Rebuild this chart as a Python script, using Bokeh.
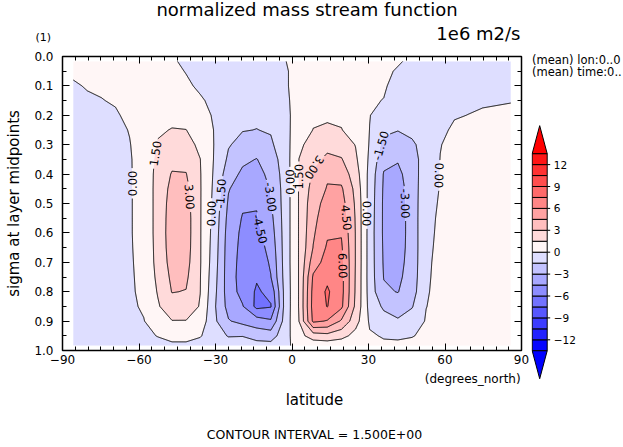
import math
import numpy as np
import contourpy
from bokeh.plotting import figure
from bokeh.layouts import column, row
from bokeh.models import (Range1d, FixedTicker, Label, NumeralTickFormatter, LinearAxis)
from bokeh.core.properties import value
from bokeh.embed import file_html
from bokeh.resources import INLINE

# ---------------- data ----------------
lat = [-85.76, -80.27, -74.75, -69.21, -63.68, -58.14, -52.61, -47.07, -41.53, -36.00,
       -30.46, -24.92, -19.38, -13.84, -8.31, -2.77, 2.77, 8.31, 13.84, 19.38,
       24.92, 30.46, 36.00, 41.53, 47.07, 52.61, 58.14, 63.68, 69.21, 74.75, 80.27, 85.76]
sigma = [0.017, 0.05, 0.10, 0.15, 0.20, 0.25, 0.30, 0.35, 0.40, 0.45, 0.50,
         0.55, 0.60, 0.65, 0.70, 0.75, 0.80, 0.85, 0.90, 0.95, 0.983]

# stream function (1e6 m2/s): one list per latitude, values from top (sigma 0.017) to bottom
psi_by_lat = [
    [0.25, 0.12, -0.08, -0.2, -0.3, -0.35, -0.4, -0.4, -0.45, -0.45, -0.45, -0.45, -0.45, -0.45, -0.4, -0.4, -0.35, -0.3, -0.25, -0.2, -0.1],
    [0.35, 0.25, 0.05, -0.1, -0.25, -0.35, -0.4, -0.45, -0.5, -0.5, -0.5, -0.5, -0.5, -0.5, -0.45, -0.45, -0.4, -0.35, -0.3, -0.25, -0.15],
    [0.45, 0.35, 0.12, -0.03, -0.2, -0.35, -0.45, -0.5, -0.55, -0.55, -0.55, -0.55, -0.55, -0.55, -0.5, -0.5, -0.45, -0.4, -0.35, -0.3, -0.2],
    [0.5, 0.45, 0.3, 0.08, -0.1, -0.3, -0.4, -0.5, -0.5, -0.5, -0.5, -0.5, -0.5, -0.5, -0.5, -0.5, -0.5, -0.45, -0.4, -0.3, -0.2],
    [0.6, 0.6, 0.5, 0.35, 0.2, 0.05, -0.05, -0.1, -0.1, -0.1, -0.1, -0.1, -0.1, -0.12, -0.15, -0.18, -0.2, -0.22, -0.3, -0.3, -0.2],
    [0.5, 0.6, 0.7, 0.75, 0.75, 0.7, 0.6, 0.5, 0.45, 0.43, 0.43, 0.43, 0.43, 0.42, 0.4, 0.36, 0.3, 0.15, -0.05, -0.3, -0.4],
    [0.3, 0.5, 0.8, 1.0, 1.2, 1.35, 1.6, 1.85, 2.0, 2.05, 2.05, 2.05, 2.05, 2.0, 1.95, 1.8, 1.6, 1.35, 0.8, 0.05, -0.4],
    [0.1, 0.3, 0.6, 0.9, 1.2, 1.55, 2.0, 2.6, 3.1, 3.4, 3.6, 3.7, 3.75, 3.7, 3.55, 3.3, 3.05, 2.4, 1.45, 0.5, -0.3],
    [-0.15, -0.05, 0.2, 0.6, 1.0, 1.52, 2.0, 2.6, 3.05, 3.4, 3.6, 3.7, 3.7, 3.65, 3.5, 3.25, 2.95, 2.3, 1.45, 0.5, -0.3],
    [-0.4, -0.3, -0.2, 0.15, 0.5, 0.85, 1.2, 1.52, 1.58, 1.6, 1.6, 1.6, 1.6, 1.6, 1.6, 1.55, 1.52, 1.4, 0.9, 0.1, -0.5],
    [-0.3, -0.4, -0.4, -0.3, -0.15, -0.05, -0.05, -0.1, -0.2, -0.3, -0.4, -0.5, -0.6, -0.7, -0.8, -0.95, -1.1, -1.3, -1.2, -0.8, -0.5],
    [-0.3, -0.4, -0.55, -0.75, -0.95, -1.15, -1.4, -1.75, -2.3, -2.9, -3.2, -3.45, -3.65, -3.75, -3.8, -3.8, -3.75, -3.5, -2.9, -1.6, -0.7],
    [-0.3, -0.45, -0.7, -0.95, -1.2, -1.45, -1.9, -2.7, -3.3, -3.8, -4.3, -4.6, -4.8, -4.9, -5.0, -5.1, -5.0, -4.4, -3.4, -1.55, -0.8],
    [-0.3, -0.45, -0.7, -1.0, -1.3, -1.52, -2.2, -3.05, -3.5, -3.9, -4.4, -4.6, -4.9, -5.2, -5.5, -5.85, -6.2, -6.4, -3.8, -2.1, -0.9],
    [-0.2, -0.3, -0.5, -0.8, -1.1, -1.4, -1.7, -2.2, -2.6, -2.9, -3.1, -3.4, -3.7, -4.0, -4.3, -4.55, -5.6, -6.1, -4.3, -2.2, -1.0],
    [-0.02, -0.1, -0.15, -0.3, -0.5, -0.6, -0.7, -0.8, -0.85, -0.9, -0.9, -0.9, -0.9, -0.9, -0.9, -0.95, -1.0, -1.0, -0.9, -0.6, -0.2],
    [0.2, 0.3, 0.45, 0.6, 0.8, 1.0, 1.25, 1.52, 1.6, 1.6, 1.6, 1.6, 1.6, 1.6, 1.6, 1.6, 1.6, 1.6, 1.52, 1.0, 0.3],
    [0.25, 0.45, 0.8, 1.1, 1.35, 1.52, 2.0, 2.6, 3.2, 3.6, 3.95, 4.1, 4.3, 4.55, 5.3, 6.2, 6.5, 6.6, 6.3, 2.2, 0.6],
    [0.3, 0.55, 0.9, 1.2, 1.3, 1.7, 2.6, 3.3, 4.3, 4.6, 5.0, 5.4, 5.8, 6.2, 6.6, 7.2, 7.7, 7.55, 5.9, 2.5, 0.6],
    [0.35, 0.6, 0.95, 1.2, 1.4, 1.52, 2.3, 3.1, 3.9, 4.7, 5.1, 5.5, 5.9, 6.2, 6.4, 6.5, 6.5, 6.3, 4.3, 2.0, 0.5],
    [0.3, 0.5, 0.75, 0.95, 1.1, 1.25, 1.45, 1.75, 2.2, 2.6, 2.8, 2.9, 2.95, 2.95, 2.95, 2.9, 2.85, 2.7, 2.1, 1.0, 0.3],
    [0.3, 0.25, 0.15, 0.08, 0.03, -0.02, -0.1, -0.25, -0.45, -0.55, -0.6, -0.65, -0.7, -0.7, -0.7, -0.7, -0.65, -0.5, -0.2, 0.15, 0.25],
    [0.3, 0.2, 0.08, -0.02, -0.5, -1.2, -1.9, -2.6, -3.1, -3.2, -3.25, -3.25, -3.25, -3.2, -3.15, -3.05, -2.8, -1.75, -0.9, -0.1, 0.2],
    [0.1, -0.1, -0.25, -0.5, -0.9, -1.45, -2.2, -2.9, -3.3, -3.5, -3.6, -3.6, -3.6, -3.55, -3.45, -3.3, -3.05, -2.3, -1.3, -0.15, 0.2],
    [-0.2, -0.3, -0.45, -0.6, -0.85, -1.2, -1.7, -2.1, -2.35, -2.45, -2.5, -2.5, -2.5, -2.5, -2.45, -2.35, -2.15, -1.6, -0.8, -0.05, 0.25],
    [-0.3, -0.4, -0.55, -0.7, -0.9, -1.0, -1.0, -0.8, -0.5, -0.3, -0.15, -0.1, -0.1, -0.1, -0.1, -0.1, -0.08, -0.02, 0.1, 0.2, 0.25],
    [-0.35, -0.4, -0.45, -0.4, -0.3, -0.15, -0.03, 0.02, 0.03, 0.03, 0.04, 0.05, 0.07, 0.1, 0.15, 0.2, 0.25, 0.3, 0.3, 0.3, 0.3],
    [-0.35, -0.35, -0.3, -0.2, -0.05, 0.11, 0.25, 0.35, 0.4, 0.45, 0.45, 0.45, 0.45, 0.45, 0.45, 0.45, 0.45, 0.45, 0.4, 0.35, 0.3],
    [-0.4, -0.35, -0.25, -0.12, 0.01, 0.2, 0.3, 0.4, 0.45, 0.5, 0.5, 0.5, 0.5, 0.5, 0.5, 0.5, 0.5, 0.45, 0.4, 0.35, 0.3],
    [-0.4, -0.35, -0.25, -0.08, 0.08, 0.2, 0.3, 0.4, 0.45, 0.5, 0.5, 0.5, 0.5, 0.5, 0.5, 0.5, 0.5, 0.45, 0.4, 0.35, 0.3],
    [-0.35, -0.3, -0.2, -0.05, 0.1, 0.2, 0.3, 0.35, 0.4, 0.4, 0.4, 0.4, 0.4, 0.4, 0.4, 0.4, 0.4, 0.35, 0.3, 0.25, 0.2],
    [-0.3, -0.25, -0.15, -0.02, 0.1, 0.15, 0.2, 0.25, 0.3, 0.3, 0.3, 0.3, 0.3, 0.3, 0.3, 0.3, 0.3, 0.25, 0.2, 0.15, 0.1],
]

levels = [-13.5, -12.0, -10.5, -9.0, -7.5, -6.0, -4.5, -3.0, -1.5, 0.0,
          1.5, 3.0, 4.5, 6.0, 7.5, 9.0, 10.5, 12.0, 13.5]
fill_colors = ["#0606ff", "#2121ff", "#3c3cff", "#5757ff", "#7272ff", "#8d8dff",
               "#a8a8ff", "#c3c3ff", "#dedeff", "#fff6f6", "#ffdada", "#ffbebe",
               "#ffa2a2", "#ff8686", "#ff6a6a", "#ff4e4e", "#ff3232", "#ff1616"]
over_color, under_color = "#ff0000", "#0000ff"

xticks = [-90, -60, -30, 0, 30, 60, 90]
xtick_labels = ["\u221290", "\u221260", "\u221230", "0", "30", "60", "90"]
xminor = [-85, -80, -75, -70, -65, -55, -50, -45, -40, -35, -25, -20, -15, -10, -5,
          5, 10, 15, 20, 25, 35, 40, 45, 50, 55, 65, 70, 75, 80, 85]
yticks = [0.0, 0.1, 0.2, 0.3, 0.4, 0.5, 0.6, 0.7, 0.8, 0.9, 1.0]
yminor = [0.05, 0.15, 0.25, 0.35, 0.45, 0.55, 0.65, 0.75, 0.85, 0.95]
cbar_ticks = [-12, -9, -6, -3, 0, 3, 6, 9, 12]
cbar_labels = ["\u221212", "\u22129", "\u22126", "\u22123", "0", "3", "6", "9", "12"]

# contour labels: (level, approx latitude, approx sigma, reading direction +1 up / -1 down)
contour_labels = [
    (0.0, -62.6, 0.432, 1), (1.5, -52.8, 0.33, 1), (3.0, -40.4, 0.478, -1),
    (0.0, -32.5, 0.534, 1), (-1.5, -27.9, 0.467, 1), (-3.0, -9.6, 0.478, -1),
    (-4.5, -12.2, 0.586, -1), (0.0, -1.8, 0.427, 1), (1.5, 2.1, 0.41, 1),
    (3.0, 10.0, 0.388, -1), (4.5, 21.1, 0.547, -1), (6.0, 19.8, 0.711, -1),
    (0.0, 29.6, 0.535, -1), (-1.5, 35.6, 0.303, 1), (-3.0, 44.2, 0.501, -1),
    (0.0, 57.3, 0.405, -1),
]

FONT = "DejaVu Sans"

# ---------------- page geometry (pixels) ----------------
PAGE_W, PAGE_H = 623, 447
TOP_H = 48            # title strip
MAIN_W, MAIN_H = 531, 322
BOT_H = PAGE_H - TOP_H - MAIN_H
KEY_W = PAGE_W - MAIN_W
FRAME_L, FRAME_T, FRAME_W, FRAME_H = 62, 8, 459, 294
SX, SY = FRAME_W / 180.0, FRAME_H


def text_fig(w, h, x0, y0):
    f = figure(width=w, height=h, x_range=Range1d(x0, x0 + w), y_range=Range1d(y0 + h, y0),
               output_backend="svg", toolbar_location=None, title=None,
               x_axis_location=None, y_axis_location=None,
               min_border_left=0, min_border_right=0, min_border_top=0, min_border_bottom=0)
    f.grid.visible = False
    f.outline_line_color = None
    f.background_fill_color = "white"
    f.border_fill_color = "white"
    return f


def add_text(f, t, x, y, align="left", baseline="middle", size="12px", angle=0.0):
    f.add_layout(Label(x=x, y=y, text=t, text_align=align, text_baseline=baseline,
                       text_font=FONT, text_font_size=size, text_color="black", angle=angle))


# ---------------- main plot ----------------
p = figure(width=MAIN_W, height=MAIN_H, x_range=Range1d(-90, 90), y_range=Range1d(1.0, 0.0),
           output_backend="svg", toolbar_location=None, title=None,
           x_axis_location=None, y_axis_location=None,
           min_border_left=FRAME_L, min_border_right=MAIN_W - FRAME_L - FRAME_W,
           min_border_top=FRAME_T, min_border_bottom=MAIN_H - FRAME_T - FRAME_H)
p.grid.visible = False
p.background_fill_color = "white"
p.border_fill_color = "white"
p.outline_line_color = "black"
p.outline_line_width = 1.5


def make_axis(ticker, show_labels, formatter=None, overrides=None, standoff=5):
    ax = LinearAxis(ticker=ticker)
    if formatter is not None:
        ax.formatter = formatter
    if overrides:
        ax.major_label_overrides = overrides
    ax.axis_line_color = None
    ax.major_tick_in, ax.major_tick_out = 7, 0
    ax.minor_tick_in, ax.minor_tick_out = 4, 0
    ax.major_tick_line_color = "black"
    ax.minor_tick_line_color = "black"
    ax.major_label_text_font = FONT
    if show_labels:
        ax.major_label_text_font_size = "12px"
        ax.major_label_text_color = "black"
        ax.major_label_standoff = standoff
    else:
        ax.major_label_text_font_size = "0px"
        ax.major_label_text_color = None
        ax.major_label_standoff = 0
    return ax


xt = FixedTicker(ticks=xticks, minor_ticks=xminor)
yt = FixedTicker(ticks=yticks, minor_ticks=yminor)
p.add_layout(make_axis(xt, True, overrides=dict(zip(xticks, xtick_labels)), standoff=4), "below")
p.add_layout(make_axis(xt, False), "above")
yl = make_axis(yt, True, formatter=NumeralTickFormatter(format="0.0"), standoff=9)
yl.axis_label = "sigma at layer midpoints"
yl.axis_label_text_font = FONT
yl.axis_label_text_font_size = "15px"
yl.axis_label_text_font_style = "normal"
yl.axis_label_text_color = "black"
yl.axis_label_standoff = 8
p.add_layout(yl, "left")
p.add_layout(make_axis(yt, False), "right")

# filled contours
Z = np.array(psi_by_lat, dtype=float).T
p.contour(np.array(lat), np.array(sigma), Z, levels=levels,
          fill_color=fill_colors, line_color=None)

# contour lines with gaps at labels
gen = contourpy.contour_generator(np.array(lat), np.array(sigma), Z,
                                  line_type=contourpy.LineType.Separate)


def densify(P, step=0.7):
    out = [P[0]]
    for a, b in zip(P[:-1], P[1:]):
        d = float(np.hypot(*(b - a)))
        n = max(1, int(math.ceil(d / step)))
        for k in range(1, n + 1):
            out.append(a + (b - a) * k / n)
    return np.array(out)


lines_px = {}
for lev in levels:
    segs = []
    for seg in gen.lines(lev):
        seg = np.asarray(seg)
        if len(seg) < 2:
            continue
        px = np.column_stack([(seg[:, 0] + 90.0) * SX, seg[:, 1] * SY])
        segs.append(densify(px))
    lines_px[lev] = segs

LFS = 11.5
char_w = {d: 0.636 for d in "0123456789"}
char_w.update({".": 0.318, "-": 0.361})
cuts = []
for lev, la, sg, direction in contour_labels:
    if not lines_px.get(lev):
        continue
    target = np.array([(la + 90.0) * SX, sg * SY])
    best = None
    for li, P in enumerate(lines_px[lev]):
        dist = np.hypot(P[:, 0] - target[0], P[:, 1] - target[1])
        i = int(np.argmin(dist))
        if best is None or dist[i] < best[0]:
            best = (dist[i], li, i)
    _, li, i = best
    P = lines_px[lev][li]
    i0, i1 = max(0, i - 9), min(len(P) - 1, i + 9)
    v = P[i1] - P[i0]
    v = v / max(1e-9, float(np.hypot(*v)))
    ang = math.atan2(-v[1], v[0])
    if direction > 0 and math.sin(ang) < 0:
        ang += math.pi
    if direction < 0 and math.sin(ang) > 0:
        ang += math.pi
    c = P[i]
    text = f"{lev:.2f}"
    L = sum(char_w[ch] for ch in text) * LFS
    cuts.append((lev, c, v, L / 2 + 2.0, 6.0))
    p.add_layout(Label(x=c[0] / SX - 90.0, y=c[1] / SY, text=text, angle=ang,
                       text_align="center", text_baseline="middle",
                       text_font=FONT, text_font_size=f"{LFS}px", text_color="black"))

xs_all, ys_all = [], []
for lev in levels:
    for P in lines_px.get(lev, []):
        keep = np.ones(len(P), dtype=bool)
        for clev, c, v, hl, hh in cuts:
            if clev != lev:
                continue
            rel = P - c
            t = rel @ v
            n = rel @ np.array([-v[1], v[0]])
            keep &= ~((np.abs(t) < hl) & (np.abs(n) < hh))
        idx = np.flatnonzero(keep)
        if len(idx) == 0:
            continue
        br = np.flatnonzero(np.diff(idx) > 1)
        starts = np.r_[0, br + 1]
        ends = np.r_[br, len(idx) - 1]
        for s, e in zip(starts, ends):
            seg = P[idx[s]:idx[e] + 1]
            if len(seg) >= 2:
                xs_all.append((seg[:, 0] / SX - 90.0).tolist())
                ys_all.append((seg[:, 1] / SY).tolist())

p.multi_line(xs=xs_all, ys=ys_all, line_color="black", line_width=1)

# ---------------- title strip ----------------
top = text_fig(PAGE_W, TOP_H, 0, 0)
add_text(top, "normalized mass stream function", 306.5, 9.0, "center", "middle", "18px")
add_text(top, "1e6 m2/s", 520.0, 33.0, "right", "middle", "18px")
add_text(top, "(1)", 35.0, 36.7, "left", "middle", "11px")

# ---------------- bottom strip ----------------
bot = text_fig(MAIN_W, BOT_H, 0, TOP_H + MAIN_H)
add_text(bot, "(degrees_north)", 530.0, 378.5, "right", "middle", "12px")
add_text(bot, "latitude", 291.5, 399.0, "center", "middle", "15px")
add_text(bot, "CONTOUR INTERVAL = 1.500E+00", 291.5, 434.0, "center", "middle", "12.5px")

# ---------------- colour key (y axis in data units) ----------------
CB_Y0, CB_PPU, TIP = 251.7, 7.3, 28.0          # pixel of value 0, pixels per unit, tip height
v_top = (CB_Y0 - TOP_H) / CB_PPU
v_bot = (CB_Y0 - PAGE_H) / CB_PPU
key = figure(width=KEY_W, height=PAGE_H - TOP_H, x_range=Range1d(MAIN_W, PAGE_W),
             y_range=Range1d(v_bot, v_top), output_backend="svg", toolbar_location=None,
             title=None, x_axis_location=None, y_axis_location=None,
             min_border_left=0, min_border_right=0, min_border_top=0, min_border_bottom=0)
key.grid.visible = False
key.outline_line_color = None
key.background_fill_color = "white"
key.border_fill_color = "white"

CB_X0, CB_X1 = 531.7, 546.7
key.quad(left=CB_X0, right=CB_X1, bottom=levels[:-1], top=levels[1:],
         fill_color=fill_colors, line_color="black", line_width=1)
tip = TIP / CB_PPU
xc = (CB_X0 + CB_X1) / 2
key.patches(xs=[[CB_X0, CB_X1, xc], [CB_X0, CB_X1, xc]],
            ys=[[levels[-1], levels[-1], levels[-1] + tip], [levels[0], levels[0], levels[0] - tip]],
            fill_color=[over_color, under_color], line_color="black", line_width=1)
key.segment(x0=CB_X1, x1=CB_X1 + 3, y0=cbar_ticks, y1=cbar_ticks, line_color="black", line_width=1)
key.text(x=553.3, y=cbar_ticks, text=cbar_labels, text_align="left", text_baseline="middle",
         text_font=value(FONT), text_font_size=value("10.5px"), text_color="black")
key.add_layout(Label(x=531.5, y=(CB_Y0 - 59.3) / CB_PPU, text="(mean) lon:0..0",
                     text_align="left", text_baseline="middle", text_font=FONT,
                     text_font_size="11.5px", text_color="black"))
key.add_layout(Label(x=531.5, y=(CB_Y0 - 71.7) / CB_PPU, text="(mean) time:0..",
                     text_align="left", text_baseline="middle", text_font=FONT,
                     text_font_size="11.5px", text_color="black"))

layout = column(top, row(column(p, bot), key))
open("out.html", "w").write(file_html(layout, INLINE))
